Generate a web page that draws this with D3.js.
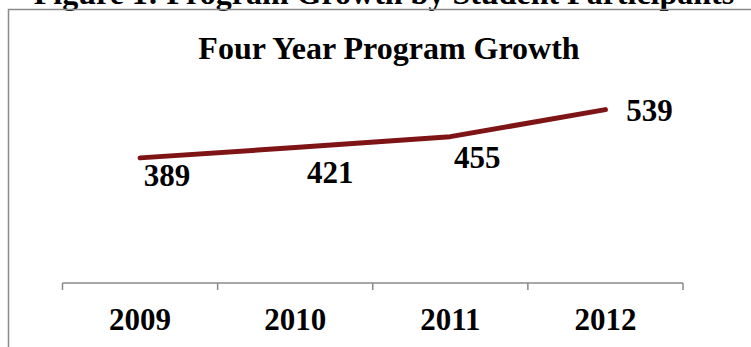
<!DOCTYPE html>
<html>
<head>
<meta charset="utf-8">
<script src="https://cdn.jsdelivr.net/npm/d3@7"></script>
<style>
  html, body { margin: 0; padding: 0; background: #fff; }
  svg { display: block; }
  text { font-family: "Liberation Serif", "Times New Roman", serif; font-weight: bold; fill: #000; }
</style>
</head>
<body>
<svg id="chart" width="751" height="347"></svg>
<script>
// Student participants per program year
const years = ["2009", "2010", "2011", "2012"];
const participants = [389, 421, 455, 539];
const yTicks = [0, 600];

const figureTitle = "Figure 1: Program Growth by Student Participants";
const chartTitle = "Four Year Program Growth";

// Hand-placed data label offsets (dx, dy from each point)
const labelOffsets = [[27, 28], [35, 35], [27, 31], [44, 11]];

const svg = d3.select("#chart");

// Figure caption, running off the top of the page
svg.append("text")
  .attr("x", 384).attr("y", 4)
  .attr("text-anchor", "middle")
  .attr("font-size", 32)
  .text(figureTitle);

// Chart frame
svg.append("rect")
  .attr("x", 8.5).attr("y", 9.5)
  .attr("width", 760).attr("height", 360)
  .attr("fill", "none")
  .attr("stroke", "#8a8a8a")
  .attr("stroke-width", 1.5);

svg.append("text")
  .attr("x", 389).attr("y", 59)
  .attr("text-anchor", "middle")
  .attr("font-size", 32)
  .text(chartTitle);

const x = d3.scaleBand().domain(years).range([62.5, 683]).padding(0);
const y = d3.scaleLinear().domain(d3.extent(yTicks)).range([283, 90]);

// Category axis with boundary tick marks
const axisY = y(0);
const axis = svg.append("g").attr("transform", `translate(0,${axisY})`);
axis.append("line")
  .attr("x1", x.range()[0]).attr("x2", x.range()[1])
  .attr("stroke", "#8a8a8a").attr("stroke-width", 1.5);
const bounds = years.map(d => x(d)).concat([x.range()[1]]);
axis.selectAll("line.tick").data(bounds).join("line")
  .attr("class", "tick")
  .attr("x1", d => d).attr("x2", d => d)
  .attr("y1", 0).attr("y2", 7)
  .attr("stroke", "#8a8a8a").attr("stroke-width", 1.5);
axis.selectAll("text").data(years).join("text")
  .attr("x", d => x(d) + x.bandwidth() / 2)
  .attr("y", 47)
  .attr("text-anchor", "middle")
  .attr("font-size", 31)
  .text(d => d);

const pts = years.map((d, i) => ({ year: d, value: participants[i] }));
const line = d3.line()
  .x(d => x(d.year) + x.bandwidth() / 2)
  .y(d => y(d.value));

svg.append("path")
  .datum(pts)
  .attr("d", line)
  .attr("fill", "none")
  .attr("stroke", "#7f1416")
  .attr("stroke-width", 5)
  .attr("stroke-linecap", "round")
  .attr("stroke-linejoin", "round");

svg.selectAll("text.value").data(pts).join("text")
  .attr("class", "value")
  .attr("x", (d, i) => x(d.year) + x.bandwidth() / 2 + labelOffsets[i][0])
  .attr("y", (d, i) => y(d.value) + labelOffsets[i][1])
  .attr("text-anchor", "middle")
  .attr("font-size", 31)
  .text(d => d.value);
</script>
</body>
</html>
